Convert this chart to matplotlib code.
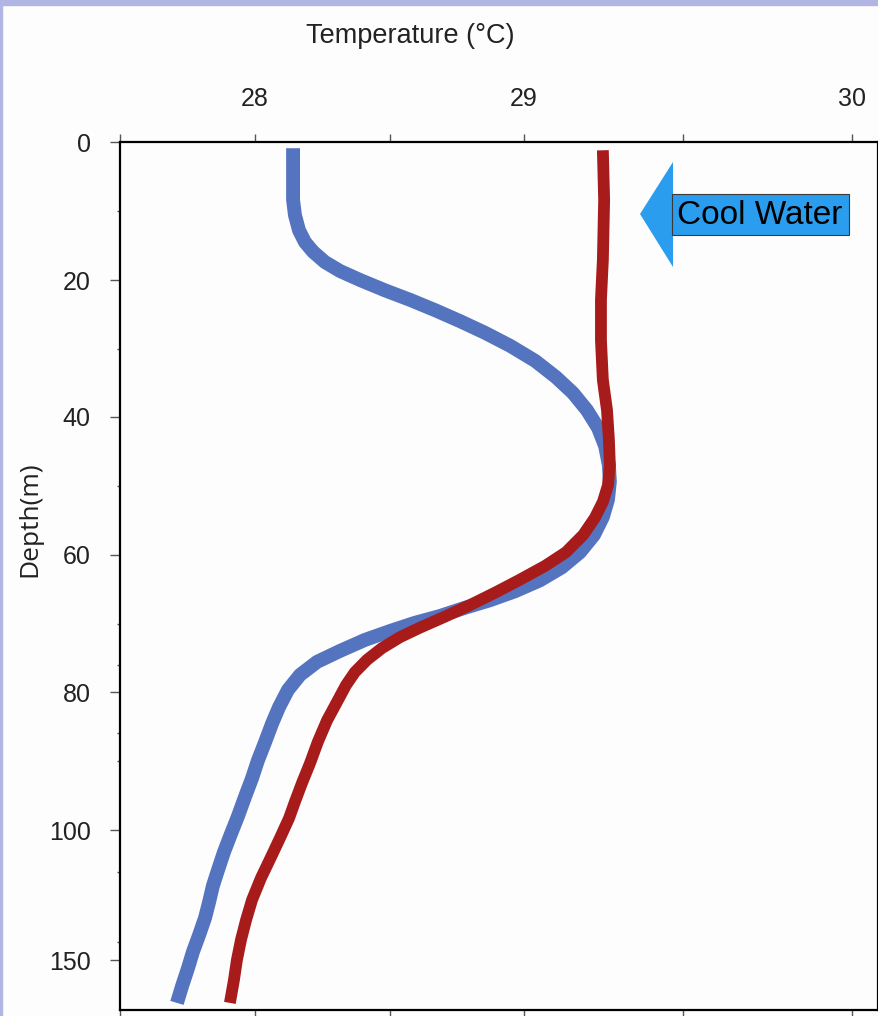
import numpy as np
import matplotlib
matplotlib.use('Agg')
import matplotlib.pyplot as plt
from matplotlib.patches import Polygon, Rectangle

plt.rcParams['font.family'] = ['Liberation Sans', 'DejaVu Sans']

# temperature profiles (deg C, depth m)
blue_temp = [28.141, 28.141, 28.141, 28.148, 28.163, 28.185, 28.215, 28.259, 28.315, 28.389,
             28.481, 28.575, 28.668, 28.761, 28.854, 28.948, 29.035, 29.101, 29.154, 29.198,
             29.233, 29.255, 29.267, 29.270, 29.264, 29.248, 29.220, 29.176, 29.119, 29.050,
             28.966, 28.873, 28.780, 28.687, 28.593, 28.500, 28.407, 28.315, 28.230, 28.167,
             28.122, 28.089, 28.063, 28.037, 28.011, 27.989, 27.963, 27.937, 27.911, 27.885,
             27.863, 27.844, 27.830, 27.815, 27.793, 27.770, 27.752, 27.730, 27.711]
blue_depth = [0.9, 4.8, 8.4, 10.6, 12.8, 14.5, 15.9, 17.4, 18.7, 20.0,
              21.5, 22.9, 24.4, 26.0, 27.7, 29.6, 31.8, 34.2, 36.5, 39.0,
              41.6, 44.2, 47.0, 49.4, 52.0, 54.5, 57.1, 59.6, 61.8, 63.7,
              65.3, 66.6, 67.7, 68.9, 69.9, 71.1, 72.4, 74.0, 75.6, 77.5,
              79.7, 82.2, 84.6, 87.3, 89.9, 92.5, 95.2, 98.0, 101.5, 108.5,
              115.4, 121.5, 127.7, 133.8, 140.4, 146.9, 153.1, 160.0, 166.5]

red_temp = [29.248, 29.252, 29.248, 29.242, 29.242, 29.248, 29.261, 29.267, 29.270, 29.264,
            29.248, 29.223, 29.186, 29.132, 29.066, 28.985, 28.892, 28.799, 28.705, 28.612,
            28.537, 28.470, 28.415, 28.370, 28.337, 28.307, 28.267, 28.233, 28.204, 28.174,
            28.148, 28.126, 28.096, 28.063, 28.022, 27.989, 27.967, 27.948, 27.933, 27.922,
            27.907]
red_depth = [1.2, 8.4, 17.1, 22.9, 28.8, 34.6, 39.0, 43.3, 47.0, 49.9,
             52.3, 54.6, 57.1, 59.6, 61.6, 63.6, 65.5, 67.3, 69.0, 70.6,
             72.0, 73.6, 75.3, 77.1, 79.0, 81.2, 84.1, 87.2, 90.3, 93.2,
             95.9, 98.3, 102.3, 109.6, 118.5, 126.9, 134.6, 142.3, 150.0, 157.7,
             166.5]

temp_major = [28, 29, 30]
temp_minor = [27.5, 28.5, 29.5]
depth_major = [0, 20, 40, 60, 80, 100, 150]
depth_minor = [10, 30, 50, 70, 76, 86, 90, 116, 143]

# the original axes are not evenly spaced: piecewise-linear scales
xs_t = [27.0, 27.5, 28, 28.5, 29, 29.5, 30, 30.5]
xs_p = [-15, 120, 255, 390, 524, 683, 852, 1021]
ys_d = [-20, 0, 20, 40, 60, 80, 100, 150, 250]
ys_p = [4, 142, 280, 417, 555, 692, 830, 960, 1220]


def fx(v):
    return np.interp(v, xs_t, xs_p)


def fx_inv(v):
    return np.interp(v, xs_p, xs_t)


def fy(v):
    return np.interp(v, ys_d, ys_p)


def fy_inv(v):
    return np.interp(v, ys_p, ys_d)


fig = plt.figure(figsize=(8.79, 10.16), dpi=100, facecolor='#fdfdfe')
W, H = 879, 1016

# lavender slide border
fig.patches.append(Rectangle((0, 1 - 5 / H), 1, 5 / H, transform=fig.transFigure,
                             color='#b1b5e3', zorder=0))
fig.patches.append(Rectangle((0, 0), 2 / W, 1, transform=fig.transFigure,
                             color='#b1b5e3', zorder=0))

ax = fig.add_axes([120 / W, 6 / H, 758 / W, 868 / H])
ax.set_facecolor('#fdfdfe')
ax.set_xscale('function', functions=(fx, fx_inv))
ax.set_yscale('function', functions=(fy, fy_inv))

ax.plot(blue_temp, blue_depth, color='#5574bf', lw=10, solid_capstyle='butt',
        solid_joinstyle='round')
ax.plot(red_temp, red_depth, color='#a81b1b', lw=8.5, solid_capstyle='butt',
        solid_joinstyle='round')

ax.set_xlim(27.5, fx_inv(878))
ax.set_ylim(fy_inv(1010), 0)

for s in ax.spines.values():
    s.set_linewidth(1.6)
    s.set_color('black')

ax.set_xticks(temp_major)
ax.set_xticklabels([str(t) for t in temp_major])
ax.set_xticks(temp_minor, minor=True)
ax.set_yticks(depth_major)
ax.set_yticklabels([str(d) for d in depth_major])
ax.set_yticks(depth_minor, minor=True)

ax.tick_params(axis='x', which='both', top=True, bottom=True, labeltop=True,
               labelbottom=False, direction='out', length=6, width=1,
               color='#555555', pad=16, labelsize=18, labelcolor='#222222')
ax.tick_params(axis='y', which='major', direction='out', length=7, width=1,
               color='#555555', pad=14, labelsize=18, labelcolor='#222222')
ax.tick_params(axis='y', which='minor', direction='out', length=2.5, width=1,
               color='#555555')

fig.text(410 / W, 1 - 36 / H, 'Temperature (°C)', ha='center', va='center',
         fontsize=19.5, color='#222222')
fig.text(30 / W, 1 - 519 / H, 'Depth(m)', ha='center', va='center', rotation=90,
         fontsize=19, color='#222222', family=['Open Sans', 'DejaVu Sans'])

# "Cool Water" arrow
head = Polygon([(640 / W, 1 - 214 / H), (673 / W, 1 - 162 / H), (673 / W, 1 - 267 / H)],
               closed=True, transform=fig.transFigure, facecolor='#2a9def',
               edgecolor='none', zorder=5)
body = Rectangle((672 / W, 1 - 235 / H), 177 / W, 41 / H, transform=fig.transFigure,
                 facecolor='#2a9def', edgecolor='#3a3a3a', lw=0.8, zorder=5)
fig.patches.extend([head, body])
fig.text(760 / W, 1 - 215 / H, 'Cool Water', ha='center', va='center', fontsize=24,
         color='black', zorder=6)

fig.savefig('out.png', dpi=100, facecolor=fig.get_facecolor())
